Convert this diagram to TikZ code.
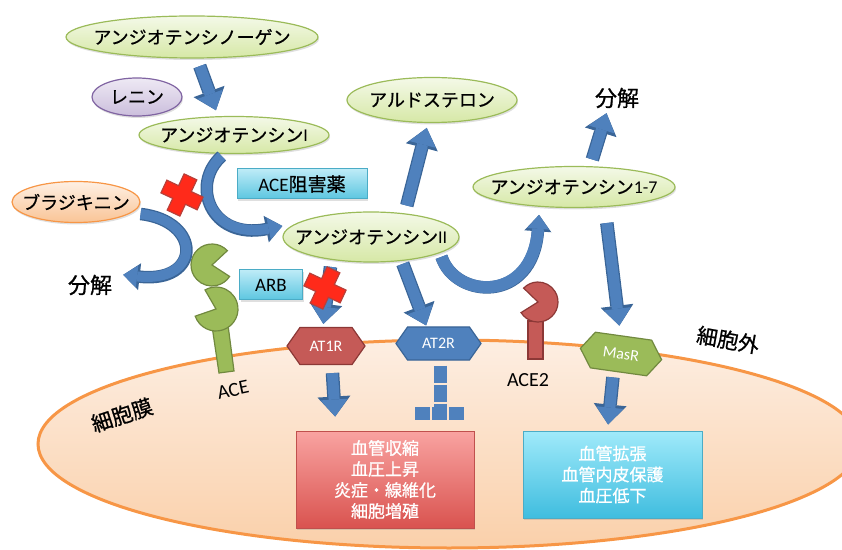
\documentclass[tikz,border=0pt]{standalone}
\usepackage{fontspec}
\setmainfont{Carlito}
\newfontfamily\jp{Noto Sans CJK JP}[FakeBold=0.8]
\newfontfamily\lat{Carlito}
\usetikzlibrary{arrows.meta,positioning,shapes.geometric,shapes.symbols,shadows}

\definecolor{molTop}{HTML}{F4F9E8}
\definecolor{molBot}{HTML}{D6E8A6}
\definecolor{molEdge}{HTML}{9BBB59}
\definecolor{reninTop}{HTML}{EEE9F4}
\definecolor{reninBot}{HTML}{CBBEDC}
\definecolor{reninEdge}{HTML}{8064A2}
\definecolor{bradyTop}{HTML}{FEF0E4}
\definecolor{bradyBot}{HTML}{F9C496}
\definecolor{bradyEdge}{HTML}{F79646}
\definecolor{drugTop}{HTML}{BDEBF7}
\definecolor{drugBot}{HTML}{5CC6E0}
\definecolor{drugEdge}{HTML}{4BACC6}
\definecolor{flowBlue}{HTML}{4F81BD}
\definecolor{flowEdge}{HTML}{3A6597}
\definecolor{atRed}{HTML}{C55A57}
\definecolor{atRedEdge}{HTML}{8C3836}
\definecolor{masGreen}{HTML}{9BBB59}
\definecolor{masEdge}{HTML}{71893F}
\definecolor{cellTop}{HTML}{FDEEE2}
\definecolor{cellBot}{HTML}{FAD0AA}
\definecolor{cellEdge}{HTML}{F79646}
\definecolor{effATop}{HTML}{F9A3A1}
\definecolor{effABot}{HTML}{D9534F}
\definecolor{effAEdge}{HTML}{C0504D}
\definecolor{effBTop}{HTML}{A0EAFA}
\definecolor{effBBot}{HTML}{3FBDDF}
\definecolor{effBEdge}{HTML}{4BACC6}
\definecolor{xRed}{HTML}{FF2A1A}
\definecolor{xEdge}{HTML}{B8403A}

% keep the ellipse size fixed whatever the text width
\newcommand{\ctext}[1]{\makebox[0pt]{#1}}

\begin{document}
\begin{tikzpicture}[
  x=1pt, y=1pt,
  mol/.style={ellipse, draw=molEdge, line width=1.2pt, top color=molTop, bottom color=molBot,
    inner sep=0pt, font=\jp\fontsize{18}{21}\selectfont,
    drop shadow={opacity=0.25, shadow xshift=1pt, shadow yshift=-2pt}},
  drug/.style={rectangle, draw=drugEdge, line width=1pt, top color=drugTop, bottom color=drugBot,
    inner sep=0pt, font=\jp\fontsize{19}{22}\selectfont,
    drop shadow={opacity=0.25, shadow xshift=1pt, shadow yshift=-2pt}},
  receptor/.style={signal, signal to=east and west, signal pointer angle=110, inner sep=0pt,
    line width=1.2pt, text=white, font=\lat\fontsize{16}{18}\selectfont},
  effect/.style={rectangle, line width=1pt, inner sep=0pt, align=center, text=white,
    font=\jp\fontsize{17}{21}\selectfont,
    drop shadow={opacity=0.25, shadow xshift=1pt, shadow yshift=-2pt}},
  tag/.style={inner sep=0pt, font=\jp\fontsize{22}{24}\selectfont},
  flow/.style={draw=flowBlue, line width=11pt, -{Triangle[length=17pt,width=27pt,line width=0pt]},
    preaction={draw=flowEdge, line width=13.5pt, -{Triangle[length=20pt,width=33pt,line width=0pt]}}},
  bendflow/.style={draw=flowBlue, line width=10pt, -{Triangle[length=14pt,width=22pt,line width=0pt]},
    preaction={draw=flowEdge, line width=12.5pt, -{Triangle[length=16.5pt,width=27pt,line width=0pt]}}},
  inhibit/.style={draw=flowBlue, line width=13pt, dash pattern=on 17pt off 2pt},
  blockmark/.pic={
    \filldraw[fill=xRed, draw=xEdge, line width=1.2pt]
      (-7,20) -- (7,20) -- (7,7) -- (20,7) -- (20,-7) -- (7,-7) -- (7,-20)
      -- (-7,-20) -- (-7,-7) -- (-20,-7) -- (-20,7) -- (-7,7) -- cycle;
  }
]
\useasboundingbox (0,0) rectangle (842,549);

% Cell
\draw[cellEdge, line width=3pt, top color=cellTop, bottom color=cellBot]
  (449,105) ellipse [x radius=411, y radius=104];

% ACE and ACE2 on the membrane
\filldraw[fill=masGreen, draw=masEdge, line width=1.2pt] (212,223) -- (228,224) -- (234,178) -- (219,176) -- cycle;
\filldraw[fill=masGreen, draw=masEdge, line width=1.2pt] (216,240) -- ++(199:22) arc[start angle=199, end angle=480, radius=22] -- cycle;
\filldraw[fill=masGreen, draw=masEdge, line width=1.2pt] (212,284) -- ++(43:21) arc[start angle=43, end angle=327, radius=21] -- cycle;
\filldraw[fill=atRed, draw=atRedEdge, line width=1.2pt] (528,190) rectangle (543,228);
\filldraw[fill=atRed, draw=atRedEdge, line width=1.2pt] (538,247) -- ++(212:20) arc[start angle=212, end angle=496, radius=20] -- cycle;

% Receptors
\node[receptor, fill=atRed, draw=atRedEdge, minimum width=78pt, minimum height=37pt] (at1r) at (326,203) {AT1R};
\node[receptor, fill=flowBlue, draw=flowEdge, minimum width=85pt, minimum height=33pt] (at2r) at (438.5,205.5) {AT2R};
\node[receptor, fill=masGreen, draw=masEdge, minimum width=82pt, minimum height=36pt, rotate=-8] (masr) at (621,195) {MasR};

% Effects inside the cell
\node[effect, draw=effAEdge, top color=effATop, bottom color=effABot, minimum width=178pt, minimum height=97pt]
  (effA) at (385,69.5) {血管収縮\\血圧上昇\\炎症・線維化\\細胞増殖};
\node[effect, draw=effBEdge, top color=effBTop, bottom color=effBBot, minimum width=179pt, minimum height=87pt]
  (effB) at (612.5,74.5) {血管拡張\\血管内皮保護\\血圧低下};

% Molecules
\node[mol, minimum width=252pt, minimum height=42pt] (agen) at (192,512) {\ctext{アンジオテンシノーゲン}};
\node[mol, draw=reninEdge, top color=reninTop, bottom color=reninBot, minimum width=90pt, minimum height=38pt] (renin) at (137,452) {\ctext{レニン}};
\node[mol, minimum width=190pt, minimum height=37pt] (ang1) at (234,414) {\ctext{アンジオテンシン{\lat I}}};
\node[mol, draw=bradyEdge, top color=bradyTop, bottom color=bradyBot, minimum width=128pt, minimum height=41pt] (brady) at (76,347) {\ctext{ブラジキニン}};
\node[mol, minimum width=176pt, minimum height=50pt] (ang2) at (371,312) {\ctext{アンジオテンシン{\lat II}}};
\node[mol, minimum width=170pt, minimum height=45pt] (aldo) at (432,449) {\ctext{アルドステロン}};
\node[mol, minimum width=202pt, minimum height=41pt] (ang17) at (574,362) {\ctext{アンジオテンシン{\lat 1-7}}};

% Drugs
\node[drug, minimum width=130pt, minimum height=30pt] (acei) at (302,365) {{\lat ACE}阻害薬};
\node[drug, minimum width=63pt, minimum height=30pt, font=\lat\fontsize{19}{22}\selectfont] (arb) at (271,264) {ARB};

% Labels
\node[tag] (decompR) at (617,451) {分解};
\node[tag] (decompL) at (90,264) {分解};
\node[tag, font=\lat\fontsize{20}{22}\selectfont, rotate=12] (aceTag) at (233,159) {ACE};
\node[tag, font=\lat\fontsize{20}{22}\selectfont] (ace2Tag) at (528,169) {ACE2};
\node[tag, font=\jp\fontsize{21}{23}\selectfont, rotate=18] (membrane) at (122,134) {細胞膜};
\node[tag, font=\jp\fontsize{21}{23}\selectfont, rotate=-10] (outside) at (728,209) {細胞外};

% Pathway arrows
\draw[flow, shorten <=8pt, shorten >=6pt] ([xshift=5pt]agen.south) -- ([xshift=-16pt]ang1.north);
\draw[bendflow, shorten <=3pt] ([xshift=-10pt]ang1.south) .. controls +(-34,-30) and +(-72,-14) .. ([yshift=11pt]ang2.west);
\draw[bendflow, shorten >=2pt] ([yshift=-12pt]brady.east) .. controls +(62,-7) and +(80,-9) .. ([xshift=9pt]decompL.north east);
\draw[flow, shorten <=8pt, shorten >=5pt] (ang2.35) -- ([xshift=-4pt]aldo.south);
\draw[flow, shorten <=7pt, shorten >=3pt] (ang2.210) -- ([xshift=-3pt]at1r.north);
\draw[flow, shorten <=3pt, shorten >=1pt] (ang2.-38) -- ([xshift=-12pt]at2r.north);
\draw[bendflow, line width=12pt, shorten <=4pt, shorten >=8pt] (ang2.-13) .. controls +(15,-46) and +(-7,-97) .. (ang17.210);
\draw[flow, shorten <=7pt, shorten >=5pt] (ang17.52) -- ([xshift=-9pt]decompR.south);
\draw[flow, shorten <=15pt, shorten >=10pt] ([xshift=31pt]ang17.south) -- ([xshift=-3pt]masr.north);

% Signalling inside the cell
\draw[flow, shorten <=8pt, shorten >=14pt] ([xshift=6pt]at1r.south) -- ([xshift=-49pt]effA.north);
\draw[flow, shorten <=5pt, shorten >=6pt] ([xshift=-5pt]masr.south) -- ([xshift=-5pt]effB.north);
\coordinate (tbar) at ([xshift=1.5pt, yshift=-52.5pt]at2r.south);
\draw[inhibit, shorten <=5pt] ([xshift=1.5pt]at2r.south) -- (tbar);
\draw[inhibit, dash pattern=on 15pt off 2pt] ([xshift=-25pt]tbar) -- ([xshift=25pt]tbar);

% Blocked steps
\pic[rotate=-25] at (182,354) {blockmark};
\pic[rotate=-25] at (325,261) {blockmark};

\end{tikzpicture}
\end{document}
